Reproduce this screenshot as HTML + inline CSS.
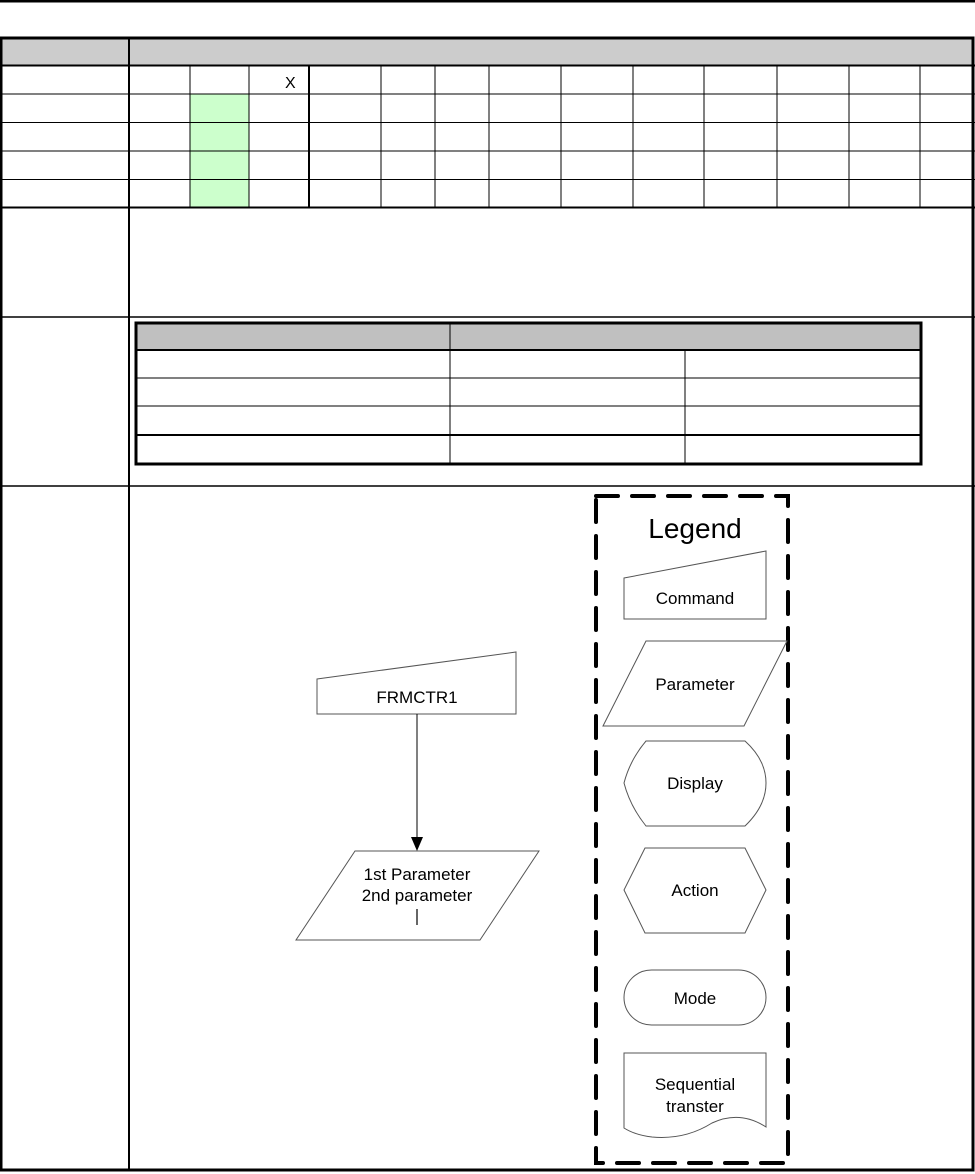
<!DOCTYPE html>
<html><head><meta charset="utf-8"><style>
html,body{margin:0;padding:0;background:#fff;}
svg{display:block;}
text{font-family:"Liberation Sans",sans-serif;fill:#000;}
</style></head><body>
<svg width="975" height="1174" viewBox="0 0 975 1174" xmlns="http://www.w3.org/2000/svg">
<rect x="0" y="0" width="975" height="2.5" fill="#000"/>
<rect x="2" y="39" width="971" height="26" fill="#cccccc"/>
<rect x="190" y="94" width="59" height="113" fill="#ccffcc"/>
<rect x="1" y="38" width="972" height="1132" fill="none" stroke="#000" stroke-width="3"/>
<line x1="129" y1="38" x2="129" y2="1170" stroke="#000" stroke-width="2"/>
<line x1="0" y1="65.5" x2="975" y2="65.5" stroke="#000" stroke-width="2"/>
<g stroke="#000" stroke-width="1">
<line x1="0" y1="94" x2="975" y2="94"/>
<line x1="0" y1="122.5" x2="975" y2="122.5"/>
<line x1="0" y1="151" x2="975" y2="151"/>
<line x1="0" y1="179.5" x2="975" y2="179.5"/>
</g>
<line x1="0" y1="207.5" x2="975" y2="207.5" stroke="#000" stroke-width="2"/>
<line x1="0" y1="317" x2="975" y2="317" stroke="#000" stroke-width="1.5"/>
<line x1="0" y1="486" x2="975" y2="486" stroke="#000" stroke-width="1.5"/>
<g stroke="#000" stroke-width="1">
<line x1="190" y1="65" x2="190" y2="207"/>
<line x1="249" y1="65" x2="249" y2="207"/>
<line x1="381" y1="65" x2="381" y2="207"/>
<line x1="435" y1="65" x2="435" y2="207"/>
<line x1="489" y1="65" x2="489" y2="207"/>
<line x1="561" y1="65" x2="561" y2="207"/>
<line x1="633" y1="65" x2="633" y2="207"/>
<line x1="704" y1="65" x2="704" y2="207"/>
<line x1="777" y1="65" x2="777" y2="207"/>
<line x1="849" y1="65" x2="849" y2="207"/>
<line x1="920" y1="65" x2="920" y2="207"/>
</g>
<line x1="309" y1="65" x2="309" y2="207" stroke="#000" stroke-width="2"/>
<text x="285" y="88" font-size="16">X</text>
<rect x="136" y="323" width="785" height="27" fill="#c0c0c0"/>
<rect x="136" y="323" width="785" height="141" fill="none" stroke="#000" stroke-width="3"/>
<line x1="135" y1="350" x2="922" y2="350" stroke="#000" stroke-width="2"/>
<line x1="135" y1="378" x2="922" y2="378" stroke="#000" stroke-width="1"/>
<line x1="135" y1="406" x2="922" y2="406" stroke="#000" stroke-width="1"/>
<line x1="135" y1="435" x2="922" y2="435" stroke="#000" stroke-width="2"/>
<line x1="450" y1="323" x2="450" y2="464" stroke="#000" stroke-width="1"/>
<line x1="685" y1="350" x2="685" y2="464" stroke="#000" stroke-width="1"/>
<rect x="596" y="496" width="192" height="667" fill="none" stroke="#000" stroke-width="4" stroke-dasharray="22,14" stroke-linecap="round"/>
<text x="695" y="538" font-size="28" text-anchor="middle">Legend</text>
<g fill="#fff" stroke="#555" stroke-width="1">
<polygon points="624,578 766,551 766,619 624,619"/>
<polygon points="646,641 787,641 744,726 603,726"/>
<path d="M646,741 L745,741 Q766,760 766,783 Q766,806 745,826 L646,826 Q630,806 624,783 Q630,760 646,741 Z"/>
<polygon points="645,848 745,848 766,890 745,933 645,933 624,890"/>
<rect x="624" y="970" width="142" height="55" rx="27.5"/>
<path d="M624,1053 L766,1053 L766,1127 Q740,1110 712,1123 Q685,1140 652,1137 Q635,1135 624,1128 Z"/>
<polygon points="317,679 516,652 516,714 317,714"/>
<polygon points="355,851 539,851 480,940 296,940"/>
</g>
<g font-size="17" text-anchor="middle">
<text x="695" y="604">Command</text>
<text x="695" y="690">Parameter</text>
<text x="695" y="789">Display</text>
<text x="695" y="896">Action</text>
<text x="695" y="1004">Mode</text>
<text x="695" y="1090">Sequential</text>
<text x="695" y="1112">transter</text>
<text x="417" y="703">FRMCTR1</text>
<text x="417" y="880">1st Parameter</text>
<text x="417" y="901">2nd parameter</text>
</g>
<line x1="417" y1="714" x2="417" y2="838" stroke="#000" stroke-width="1"/>
<polygon points="411,837 423,837 417,851" fill="#000"/>
<line x1="417" y1="909" x2="417" y2="925" stroke="#000" stroke-width="1.2"/>
</svg>
</body></html>
